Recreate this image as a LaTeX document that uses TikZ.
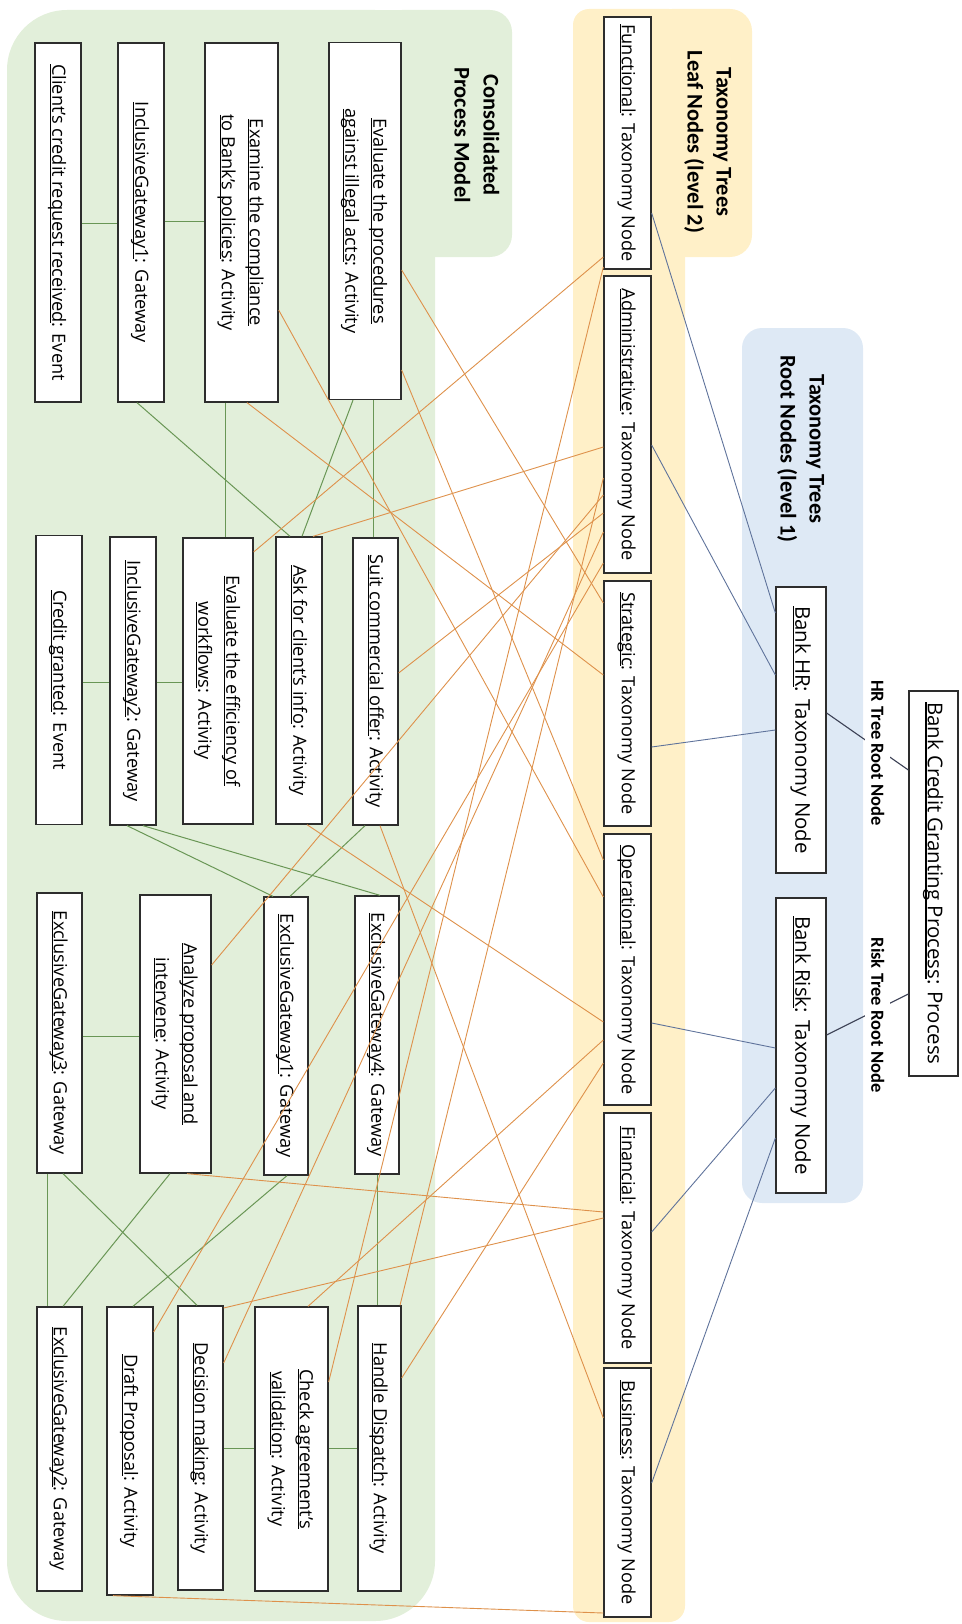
\documentclass[tikz,border=0pt]{standalone}
\usepackage{fontspec}
\setmainfont{Open Sans}
\newfontfamily\titlefont{Carlito}
\usetikzlibrary{calc}

\definecolor{greenbg}{HTML}{E2EFDA}
\definecolor{yellowbg}{HTML}{FFF0C8}
\definecolor{bluebg}{HTML}{DEE9F5}
\definecolor{seqline}{RGB}{105,150,85}
\definecolor{taxline}{RGB}{222,145,75}
\definecolor{treeline}{RGB}{95,115,155}
\definecolor{rootline}{RGB}{60,65,85}
\definecolor{boxline}{RGB}{45,45,45}

% underlined object name, rule at a fixed offset below the baseline
\newcommand{\ulname}[1]{\setbox0=\hbox{#1}\rlap{\rule[-0.12em]{\wd0}{0.055em}}\copy0}
% text reading top to bottom
\newcommand{\vtext}[1]{\rotatebox{-90}{\begin{tabular}{@{}c@{}}#1\end{tabular}}}

\tikzset{
  objbox/.style={draw=boxline, line width=1.3pt, fill=white, inner sep=0pt,
                 font=\fontsize{18.2}{28}\selectfont},
  rootbox/.style={objbox, font=\fontsize{20.4}{28}\selectfont},
  seq/.style={draw=seqline, line width=1pt},
  tax/.style={draw=taxline, line width=0.9pt},
  tree/.style={draw=treeline, line width=0.9pt},
  rootlink/.style={draw=rootline, line width=1.1pt},
  paneltitle/.style={font=\titlefont\fontsize{22.4}{29}\selectfont\bfseries, inner sep=0pt},
  rootlabel/.style={font=\titlefont\fontsize{18.5}{22}\selectfont\bfseries, fill=white,
                    anchor=west, inner sep=0pt, minimum width=25pt, minimum height=160pt},
}

\begin{document}
\begin{tikzpicture}[x=1pt,y=-1pt]
\useasboundingbox (0,0) rectangle (961,1624);

% ---------- panels ----------
\fill[greenbg, rounded corners=60pt] (7,10) rectangle (435,1621);
\fill[greenbg, rounded corners=22pt] (380,10) rectangle (512,257);
\fill[greenbg] (330,10) rectangle (440,257);

\fill[yellowbg, rounded corners=16pt] (573,9) rectangle (685,1622);
\fill[yellowbg, rounded corners=22pt] (650,9) rectangle (752,257);
\fill[yellowbg] (640,9) rectangle (690,257);

\fill[bluebg, rounded corners=20pt] (742,328) rectangle (863,1203);

% ---------- panel titles ----------
\node[paneltitle] (cptitle) at (475,135) {\vtext{Consolidated\\Process Model}};
\node[paneltitle] (leaftitle) at (708,142) {\vtext{Taxonomy Trees\\Leaf Nodes (level 2)}};
\node[paneltitle] (roottitle) at (801,449) {\vtext{Taxonomy Trees\\Root Nodes (level 1)}};

% ---------- process model ----------
\node[objbox, minimum width=46pt, minimum height=359pt] (client) at (58,222.5)
  {\vtext{\ulname{Client’s credit request received}: Event}};
\node[objbox, minimum width=46pt, minimum height=359pt] (ig1) at (141,222.5)
  {\vtext{\ulname{InclusiveGateway1}: Gateway}};
\node[objbox, minimum width=73pt, minimum height=359pt] (examine) at (241.5,222.5)
  {\vtext{\ulname{Examine the compliance}\\\ulname{to Bank’s policies}: Activity}};
\node[objbox, minimum width=72pt, minimum height=357pt] (evalproc) at (365,221)
  {\vtext{\ulname{Evaluate the procedures}\\\ulname{against illegal acts}: Activity}};

\node[objbox, minimum width=46pt, minimum height=289pt] (credit) at (59,680)
  {\vtext{\ulname{Credit granted}: Event}};
\node[objbox, minimum width=46pt, minimum height=288pt] (ig2) at (133,681)
  {\vtext{\ulname{InclusiveGateway2}: Gateway}};
\node[objbox, minimum width=70pt, minimum height=286pt] (evaleff) at (218,681)
  {\vtext{\ulname{Evaluate the efficiency of}\\\ulname{workflows}: Activity}};
\node[objbox, minimum width=46pt, minimum height=287pt] (ask) at (299,680.5)
  {\vtext{\ulname{Ask for client’s info}: Activity}};
\node[objbox, minimum width=45pt, minimum height=287pt] (suit) at (375.5,681.5)
  {\vtext{\ulname{Suit commercial offer}: Activity}};

\node[objbox, minimum width=45pt, minimum height=280pt] (eg3) at (59.5,1033)
  {\vtext{\ulname{ExclusiveGateway3}: Gateway}};
\node[objbox, minimum width=71pt, minimum height=278pt] (analyze) at (175.5,1034)
  {\vtext{\ulname{Analyze proposal and}\\\ulname{intervene}: Activity}};
\node[objbox, minimum width=44pt, minimum height=278pt] (eg1) at (286,1036)
  {\vtext{\ulname{ExclusiveGateway1}: Gateway}};
\node[objbox, minimum width=44pt, minimum height=278pt] (eg4) at (377,1035)
  {\vtext{\ulname{ExclusiveGateway4}: Gateway}};

\node[objbox, minimum width=45pt, minimum height=284pt] (eg2) at (59.5,1449)
  {\vtext{\ulname{ExclusiveGateway2}: Gateway}};
\node[objbox, minimum width=46pt, minimum height=288pt] (draft) at (130,1451)
  {\vtext{\ulname{Draft Proposal}: Activity}};
\node[objbox, minimum width=45pt, minimum height=284pt] (decision) at (200.5,1448)
  {\vtext{\ulname{Decision making}: Activity}};
\node[objbox, minimum width=73pt, minimum height=284pt] (check) at (291.5,1449)
  {\vtext{\ulname{Check agreement’s}\\\ulname{validation}: Activity}};
\node[objbox, minimum width=43pt, minimum height=285pt] (handle) at (379.5,1448.5)
  {\vtext{\ulname{Handle Dispatch}: Activity}};

% ---------- taxonomy leaf nodes ----------
\node[objbox, minimum width=47pt, minimum height=252pt] (functional) at (627.5,143)
  {\vtext{\ulname{Functional}: Taxonomy Node}};
\node[objbox, minimum width=47pt, minimum height=297pt] (admin) at (627.5,424.5)
  {\vtext{\ulname{Administrative}: Taxonomy Node}};
\node[objbox, minimum width=47pt, minimum height=245pt] (strategic) at (627.5,703.5)
  {\vtext{\ulname{Strategic}: Taxonomy Node}};
\node[objbox, minimum width=47pt, minimum height=271pt] (operational) at (627.5,969.5)
  {\vtext{\ulname{Operational}: Taxonomy Node}};
\node[objbox, minimum width=47pt, minimum height=250pt] (financial) at (627.5,1238)
  {\vtext{\ulname{Financial}: Taxonomy Node}};
\node[objbox, minimum width=47pt, minimum height=249pt] (business) at (627.5,1492.5)
  {\vtext{\ulname{Business}: Taxonomy Node}};

% ---------- taxonomy root nodes ----------
\node[rootbox, minimum width=50pt, minimum height=286pt] (hr) at (801,730)
  {\vtext{\ulname{Bank HR}: Taxonomy Node}};
\node[rootbox, minimum width=50pt, minimum height=295pt] (risk) at (801,1045.5)
  {\vtext{\ulname{Bank Risk}: Taxonomy Node}};
\node[rootbox, minimum width=49pt, minimum height=385pt] (bcgp) at (933.5,883.5)
  {\vtext{\ulname{Bank Credit Granting Process}: Process}};

% ---------- process to tree roots (labels sit over the links) ----------
\draw[rootlink] (bcgp.west |- 0,770) -- (hr.east |- 0,713);
\draw[rootlink] (bcgp.west |- 0,994) -- (risk.east |- 0,1035);
\node[rootlabel] (hrlabel) at (865,753) {\rotatebox{-90}{HR Tree Root Node}};
\node[rootlabel] (risklabel) at (865,1015) {\rotatebox{-90}{Risk Tree Root Node}};

% ---------- roots to leaves ----------
\draw[tree] (functional.east |- 0,213) -- (hr.west |- 0,613);
\draw[tree] (admin.east |- 0,445) -- (hr.west |- 0,675);
\draw[tree] (strategic.east |- 0,747) -- (hr.west |- 0,730);
\draw[tree] (operational.east |- 0,1023) -- (risk.west |- 0,1048);
\draw[tree] (financial.east |- 0,1232) -- (risk.west |- 0,1088);
\draw[tree] (business.east |- 0,1483) -- (risk.west |- 0,1138);

% ---------- sequence flows ----------
\draw[seq] (client.east |- 0,223) -- (ig1.west |- 0,223);
\draw[seq] (ig1.east |- 0,221) -- (examine.west |- 0,221);
\draw[seq] (ig1.south -| 137,0) -- (ask.north -| 290,0);
\draw[seq] (examine.south -| 225,0) -- (evaleff.north -| 225,0);
\draw[seq] (evalproc.south -| 353,0) -- (ask.north -| 302,0);
\draw[seq] (evalproc.south -| 373,0) -- (suit.north -| 373,0);
\draw[seq] (credit.east |- 0,682) -- (ig2.west |- 0,682);
\draw[seq] (ig2.east |- 0,682) -- (evaleff.west |- 0,682);
\draw[seq] (ig2.south -| 127,0) -- (eg1.north -| 273,0);
\draw[seq] (ig2.south -| 143,0) -- (eg4.north -| 380,0);
\draw[seq] (suit.south -| 365,0) -- (eg1.north -| 290,0);
\draw[seq] (analyze.west |- 0,1036) -- (eg3.east |- 0,1036);
\draw[seq] (eg4.south -| 377,0) -- (handle.north -| 377,0);
\draw[seq] (eg3.south -| 47,0) -- (eg2.north -| 47,0);
\draw[seq] (eg3.south -| 63,0) -- (decision.north -| 197,0);
\draw[seq] (analyze.south -| 170,0) -- (eg2.north -| 63,0);
\draw[seq] (eg1.south -| 287,0) -- (draft.north -| 133,0);
\draw[seq] (decision.east |- 0,1448) -- (check.west |- 0,1448);
\draw[seq] (check.east |- 0,1448) -- (handle.west |- 0,1448);

% ---------- classification links ----------
\draw[tax] (evalproc.east |- 0,270) -- (strategic.west |- 0,603);
\draw[tax] (evalproc.east |- 0,370) -- (operational.west |- 0,860);
\draw[tax] (examine.east |- 0,310) -- (operational.west |- 0,897);
\draw[tax] (examine.south -| 247,0) -- (strategic.west |- 0,675);
\draw[tax] (evaleff.east |- 0,552) -- (functional.west |- 0,257);
\draw[tax] (ask.north -| 313,0) -- (admin.west |- 0,447);
\draw[tax] (ask.south -| 307,0) -- (operational.west |- 0,1022);
\draw[tax] (suit.east |- 0,673) -- (admin.west |- 0,513);
\draw[tax] (suit.south -| 380,0) -- (business.west |- 0,1418);
\draw[tax] (analyze.east |- 0,965) -- (admin.west |- 0,495);
\draw[tax] (analyze.south -| 187,0) -- (financial.west |- 0,1212);
\draw[tax] (draft.east |- 0,1332) -- (admin.west |- 0,563);
\draw[tax] (draft.south -| 113,0) -- (business.west |- 0,1613);
\draw[tax] (decision.east |- 0,1308) -- (financial.west |- 0,1218);
\draw[tax] (decision.east |- 0,1363) -- (admin.west |- 0,532);
\draw[tax] (check.north -| 308,0) -- (operational.west |- 0,1040);
\draw[tax] (check.east |- 0,1382) -- (functional.west |- 0,267);
\draw[tax] (handle.north -| 400,0) -- (admin.west |- 0,478);
\draw[tax] (handle.east |- 0,1378) -- (operational.west |- 0,1063);
\end{tikzpicture}
\end{document}
